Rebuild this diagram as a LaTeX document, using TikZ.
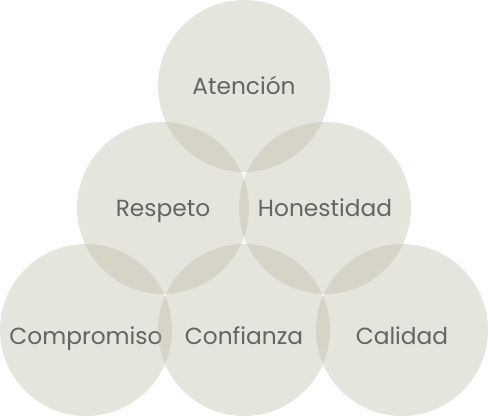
\documentclass[tikz,border=0pt]{standalone}
\usepackage{fontspec}
\setmainfont{Poppins}
\definecolor{disc}{RGB}{179,176,152}
\definecolor{ink}{RGB}{100,100,100}
\begin{document}
\begin{tikzpicture}[x=1pt,y=-1pt,
  valuedisc/.style={circle, minimum size=172pt, inner sep=0pt, fill=disc, fill opacity=0.33, text opacity=1, text=ink, text height=17pt, text depth=1pt, font=\fontsize{23.3}{26}\selectfont},
  lowtext/.style={text height=30pt}]
\useasboundingbox (0,0) rectangle (488,416);
\node[valuedisc] (aten) at (244,86) {Atención};
\node[valuedisc] (resp) at (163,208) {Respeto};
\node[valuedisc] (hone) at (325,208) {Honestidad};
\node[valuedisc, lowtext] (comp) at (86,330) {Compromiso};
\node[valuedisc, lowtext] (conf) at (244,330) {Confianza};
\node[valuedisc, lowtext] (cali) at (402,330) {Calidad};
\end{tikzpicture}
\end{document}
